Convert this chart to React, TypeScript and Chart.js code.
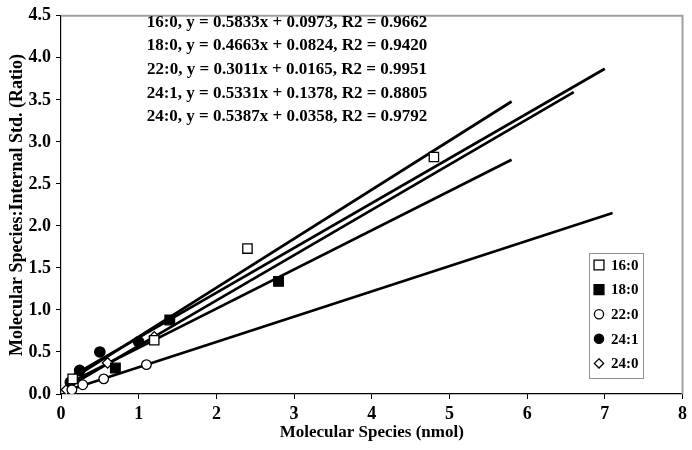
import React, { useEffect, useRef } from 'react';
import { Chart, registerables } from 'chart.js';

Chart.register(...registerables);

// ---- data ----
const seriesNames = ['16:0', '18:0', '22:0', '24:1', '24:0'];

const x160 = [0.15, 1.2, 2.4, 4.8];
const y160 = [0.18, 0.64, 1.73, 2.82];
const x180 = [0.7, 1.4, 2.8];
const y180 = [0.31, 0.88, 1.34];
const x220 = [0.14, 0.28, 0.55, 1.1];
const y220 = [0.05, 0.11, 0.18, 0.35];
const x241 = [0.12, 0.24, 0.5, 1.0];
const y241 = [0.14, 0.28, 0.5, 0.62];
const x240 = [0.07, 0.6, 1.2];
const y240 = [0.05, 0.37, 0.68];

const slopes = ['0.5833', '0.4663', '0.3011', '0.5331', '0.5387'];
const intercepts = ['0.0973', '0.0824', '0.0165', '0.1378', '0.0358'];
const r2Values = ['0.9662', '0.9420', '0.9951', '0.8805', '0.9792'];
const trendStartX = [0.1, 0.1, 0.1, 0.1, 0.07];
const trendEndX = [5.8, 5.8, 7.1, 7.0, 6.6];

const xTickValues = [0, 1, 2, 3, 4, 5, 6, 7, 8];
const yTickValues = [0, 0.5, 1, 1.5, 2, 2.5, 3, 3.5, 4, 4.5];

const xTitle = 'Molecular Species (nmol)';
const yTitle = 'Molecular Species:Internal Std. (Ratio)';

const FONT = "'Liberation Serif', 'Times New Roman', serif";

type Marker = { style: string; radius: number; fill: string };
const markers: Marker[] = [
  { style: 'rect', radius: 6.6, fill: '#ffffff' },
  { style: 'rect', radius: 6.8, fill: '#000000' },
  { style: 'circle', radius: 4.8, fill: '#ffffff' },
  { style: 'circle', radius: 5.2, fill: '#000000' },
  { style: 'rectRot', radius: 5.2, fill: '#ffffff' },
];

function drawMarker(ctx: CanvasRenderingContext2D, m: Marker, x: number, y: number, r: number) {
  ctx.save();
  ctx.fillStyle = m.fill;
  ctx.strokeStyle = '#000';
  ctx.lineWidth = 1.3;
  ctx.beginPath();
  if (m.style === 'rect') {
    const s = Math.SQRT1_2 * r;
    ctx.rect(x - s, y - s, 2 * s, 2 * s);
  } else if (m.style === 'circle') {
    ctx.arc(x, y, r, 0, Math.PI * 2);
  } else {
    ctx.moveTo(x, y - r);
    ctx.lineTo(x + r, y);
    ctx.lineTo(x, y + r);
    ctx.lineTo(x - r, y);
    ctx.closePath();
  }
  ctx.fill();
  ctx.stroke();
  ctx.restore();
}

export default function App() {
  const ref = useRef<HTMLCanvasElement>(null);

  useEffect(() => {
    const canvas = ref.current;
    if (!canvas) return;

    const xs = [x160, x180, x220, x241, x240];
    const ys = [y160, y180, y220, y241, y240];

    const pointSets = xs.map((arr, i) => arr.map((x, j) => ({ x, y: ys[i][j] })));
    const trendSets = seriesNames.map((_, i) =>
      [trendStartX[i], trendEndX[i]].map((x) => ({
        x,
        y: parseFloat(slopes[i]) * x + parseFloat(intercepts[i]),
      }))
    );

    const datasets: any[] = [];
    trendSets.forEach((d, i) => {
      datasets.push({
        label: seriesNames[i] + ' trend',
        data: d,
        showLine: true,
        borderColor: '#000',
        borderWidth: 2.7,
        pointRadius: 0,
        order: 2,
      });
    });
    pointSets.forEach((d, i) => {
      datasets.push({
        label: seriesNames[i],
        data: d,
        showLine: false,
        pointStyle: markers[i].style,
        pointRadius: markers[i].radius,
        pointBackgroundColor: markers[i].fill,
        pointBorderColor: '#000',
        pointBorderWidth: 1.3,
        order: 1,
      });
    });

    const overlay = {
      id: 'overlay',
      beforeDatasetsDraw(chart: any) {
        const { ctx, chartArea } = chart;
        ctx.save();
        ctx.strokeStyle = '#a0a0a0';
        ctx.lineWidth = 2;
        ctx.beginPath();
        ctx.moveTo(chartArea.left, chartArea.top);
        ctx.lineTo(chartArea.right, chartArea.top);
        ctx.lineTo(chartArea.right, chartArea.bottom);
        ctx.stroke();
        ctx.restore();
      },
      afterDraw(chart: any) {
        const { ctx } = chart;
        ctx.save();
        // equations
        ctx.font = `bold 17px ${FONT}`;
        ctx.fillStyle = '#000';
        ctx.textAlign = 'center';
        ctx.textBaseline = 'middle';
        const eqY = [23, 46, 70, 94, 117];
        seriesNames.forEach((n, i) => {
          ctx.fillText(`${n}, y = ${slopes[i]}x + ${intercepts[i]}, R2 = ${r2Values[i]}`, 287, eqY[i]);
        });
        // legend
        ctx.font = `bold 15px ${FONT}`;
        const lx = 589, ly = 253, lw = 54, lh = 125;
        ctx.fillStyle = '#fff';
        ctx.fillRect(lx, ly, lw, lh);
        ctx.strokeStyle = '#909090';
        ctx.lineWidth = 1;
        ctx.strokeRect(lx + 0.5, ly + 0.5, lw, lh);
        seriesNames.forEach((n, i) => {
          const cy = 265 + i * 24.6;
          drawMarker(ctx, markers[i], 599, cy, i < 2 ? 7 : 4.6);
          ctx.fillStyle = '#000';
          ctx.textAlign = 'left';
          ctx.textBaseline = 'middle';
          ctx.fillText(n, 611, cy + 1);
        });
        ctx.restore();
      },
    };

    const chart = new Chart(canvas, {
      type: 'scatter',
      data: { datasets },
      options: {
        animation: false,
        responsive: false,
        devicePixelRatio: 1,
        layout: { padding: { top: 12, right: 9, left: 0, bottom: 0 } },
        plugins: {
          legend: { display: false },
          tooltip: { enabled: false },
        },
        font: { family: FONT },
        scales: {
          x: {
            type: 'linear',
            min: 0,
            max: 8,
            afterFit: (s: any) => {
              s.height = 56;
            },
            afterBuildTicks: (s: any) => {
              s.ticks = xTickValues.map((v) => ({ value: v }));
            },
            ticks: {
              color: '#000',
              font: { family: FONT, size: 18, weight: 'bold' },
              padding: 5,
              maxRotation: 0,
              callback: (v: any) => String(v),
            },
            grid: { drawOnChartArea: false, drawTicks: true, tickLength: 5, color: '#000' },
            border: { color: '#000', width: 1.2 },
            title: {
              display: true,
              text: xTitle,
              color: '#000',
              font: { family: FONT, size: 17, weight: 'bold' },
              padding: { top: 0, bottom: 7 },
            },
          },
          y: {
            type: 'linear',
            min: 0,
            max: 4.5,
            afterFit: (s: any) => {
              s.width = 61;
            },
            afterBuildTicks: (s: any) => {
              s.ticks = yTickValues.map((v) => ({ value: v }));
            },
            ticks: {
              color: '#000',
              font: { family: FONT, size: 18, weight: 'bold' },
              padding: 5,
              callback: (v: any) => Number(v).toFixed(1),
            },
            grid: { drawOnChartArea: false, drawTicks: true, tickLength: 5, color: '#000' },
            border: { color: '#000', width: 1.2 },
            title: {
              display: true,
              text: yTitle,
              color: '#000',
              font: { family: FONT, size: 18, weight: 'bold' },
              padding: { top: 7, bottom: 0 },
            },
          },
        },
      } as any,
      plugins: [overlay],
    });

    return () => chart.destroy();
  }, []);

  return (
    <div style={{ position: 'absolute', left: 0, top: 0, width: 692, height: 450, background: '#fff' }}>
      <canvas ref={ref} width={692} height={450} style={{ display: 'block' }} />
    </div>
  );
}
